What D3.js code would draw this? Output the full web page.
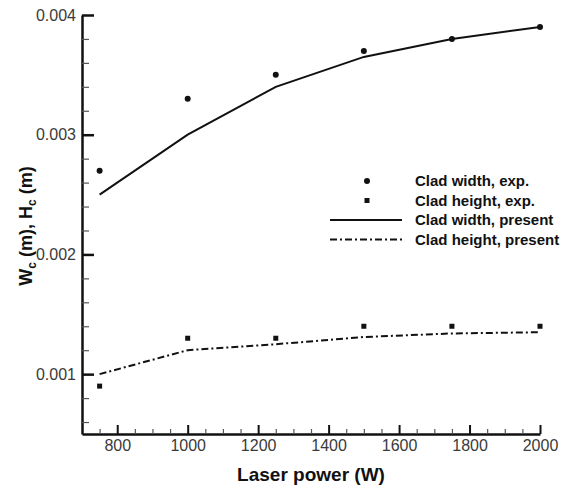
<!DOCTYPE html>
<html>
<head>
<meta charset="utf-8">
<script src="https://cdn.jsdelivr.net/npm/d3@7"></script>
<style>
  html, body { margin: 0; padding: 0; background: #fff; }
  svg { display: block; font-family: "Liberation Sans", Arial, Helvetica, sans-serif; }
</style>
</head>
<body>
<svg id="chart" width="580" height="487"></svg>
<script>
// Laser power settings (W)
const power = [750, 1000, 1250, 1500, 1750, 2000];
// Measured clad geometry (m)
const widthExp  = [0.0027, 0.0033, 0.0035, 0.0037, 0.0038, 0.0039];
const heightExp = [0.0009, 0.0013, 0.0013, 0.0014, 0.0014, 0.0014];
// Model predictions (m)
const widthModel  = [0.0025, 0.0030, 0.0034, 0.00365, 0.0038, 0.0039];
const heightModel = [0.0010, 0.0012, 0.00125, 0.00131, 0.00134, 0.00135];

const xMajor = [800, 1000, 1200, 1400, 1600, 1800, 2000];
const xMinor = [750, 850, 900, 950, 1050, 1100, 1150, 1250, 1300, 1350, 1450, 1500, 1550,
                1650, 1700, 1750, 1850, 1900, 1950];
const yMajor = [0.001, 0.002, 0.003, 0.004];
const yMinor = [0.0006, 0.0008, 0.0012, 0.0014, 0.0016, 0.0018, 0.0022, 0.0024, 0.0026, 0.0028,
                0.0032, 0.0034, 0.0036, 0.0038];

const legendItems = [
  { label: "Clad width, exp.",      kind: "circle" },
  { label: "Clad height, exp.",     kind: "square" },
  { label: "Clad width, present",   kind: "solid" },
  { label: "Clad height, present",  kind: "dashdot" }
];

const svg = d3.select("#chart");
const x = d3.scaleLinear().domain([700, 2000]).range([82, 540]);
const y = d3.scaleLinear().domain([0.0005, 0.004]).range([434, 15]);
const dashDot = "7,3,2,3";

// Axes: ticks point inward, minor ticks drawn with a second axis
const gx = svg.append("g").attr("transform", `translate(0,${y.range()[0]})`);
gx.call(d3.axisBottom(x).tickValues(xMajor).tickSizeInner(-9).tickSizeOuter(0)
          .tickPadding(6).tickFormat(d3.format("d")));
const gxm = svg.append("g").attr("transform", `translate(0,${y.range()[0]})`);
gxm.call(d3.axisBottom(x).tickValues(xMinor).tickSizeInner(-5).tickSizeOuter(0).tickFormat(""));
gxm.select(".domain").remove();

const gy = svg.append("g").attr("transform", `translate(${x.range()[0]},0)`);
gy.call(d3.axisLeft(y).tickValues(yMajor).tickSizeInner(-12).tickSizeOuter(0)
          .tickPadding(6).tickFormat(d3.format(".3f")));
const gym = svg.append("g").attr("transform", `translate(${x.range()[0]},0)`);
gym.call(d3.axisLeft(y).tickValues(yMinor).tickSizeInner(-7).tickSizeOuter(0).tickFormat(""));
gym.select(".domain").remove();

svg.selectAll(".domain").attr("stroke", "#111").attr("stroke-width", 2.5);
gx.selectAll(".tick line").attr("stroke", "#111").attr("stroke-width", 2);
gy.selectAll(".tick line").attr("stroke", "#111").attr("stroke-width", 2.5);
gxm.selectAll(".tick line").attr("stroke", "#555").attr("stroke-width", 1.2);
gym.selectAll(".tick line").attr("stroke", "#555").attr("stroke-width", 1.2);
svg.selectAll(".tick text")
  .attr("font-family", "'Liberation Sans', Arial, sans-serif")
  .attr("font-size", 16).attr("fill", "#3a3a3a");

// Axis titles
svg.append("text")
  .attr("x", 311).attr("y", 481)
  .attr("text-anchor", "middle")
  .attr("font-size", 19).attr("font-weight", "bold").attr("fill", "#111")
  .text("Laser power (W)");

const yTitle = svg.append("text")
  .attr("transform", "translate(32,226) rotate(-90)")
  .attr("text-anchor", "middle")
  .attr("font-size", 18).attr("font-weight", "bold").attr("fill", "#111");
yTitle.append("tspan").text("W");
yTitle.append("tspan").attr("font-size", 12).attr("dy", 4).text("c");
yTitle.append("tspan").attr("dy", -4).text(" (m), H");
yTitle.append("tspan").attr("font-size", 12).attr("dy", 4).text("c");
yTitle.append("tspan").attr("dy", -4).text(" (m)");

// Model curves
const line = d3.line().x((d, i) => x(power[i])).y(d => y(d));
svg.append("path").datum(widthModel)
  .attr("d", line).attr("fill", "none").attr("stroke", "#111").attr("stroke-width", 2);
svg.append("path").datum(heightModel)
  .attr("d", line).attr("fill", "none").attr("stroke", "#111").attr("stroke-width", 2)
  .attr("stroke-dasharray", dashDot);

// Measured points
svg.append("g").selectAll("circle").data(widthExp).join("circle")
  .attr("cx", (d, i) => x(power[i])).attr("cy", d => y(d)).attr("r", 3).attr("fill", "#111");
svg.append("g").selectAll("rect").data(heightExp).join("rect")
  .attr("x", (d, i) => x(power[i]) - 2.5).attr("y", d => y(d) - 2.5)
  .attr("width", 5).attr("height", 5).attr("fill", "#111");

// Legend
const legend = svg.append("g").attr("transform", "translate(0,181)");
legendItems.forEach((item, i) => {
  const row = legend.append("g").attr("transform", `translate(0,${i * 19.5})`);
  if (item.kind === "circle") {
    row.append("circle").attr("cx", 367).attr("cy", 0).attr("r", 3).attr("fill", "#111");
  } else if (item.kind === "square") {
    row.append("rect").attr("x", 364.5).attr("y", -2.5).attr("width", 5).attr("height", 5).attr("fill", "#111");
  } else {
    row.append("line").attr("x1", 330).attr("x2", 402).attr("y1", 0).attr("y2", 0)
      .attr("stroke", "#111").attr("stroke-width", 2)
      .attr("stroke-dasharray", item.kind === "dashdot" ? dashDot : null);
  }
  row.append("text").attr("x", 415).attr("y", 0).attr("dy", "0.36em")
    .attr("font-size", 15).attr("font-weight", "bold").attr("fill", "#111")
    .text(item.label);
});
</script>
</body>
</html>
